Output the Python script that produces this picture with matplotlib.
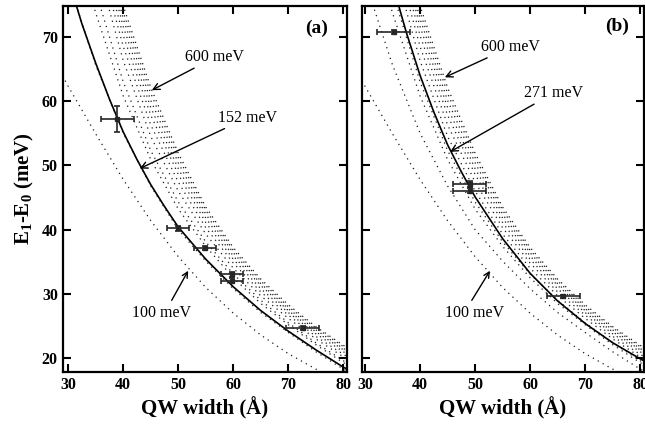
import matplotlib
matplotlib.use("Agg")
import matplotlib.pyplot as plt

plt.rcParams["font.family"] = ["Liberation Serif", "DejaVu Serif"]
plt.rcParams["mathtext.fontset"] = "custom"
plt.rcParams["mathtext.rm"] = "Liberation Serif"
plt.rcParams["mathtext.bf"] = "Liberation Serif:bold"

# x grid (QW width, Angstrom) for the dotted barrier-height curves
x_grid = [28, 30, 35, 40, 45, 50, 55, 60, 65, 70, 75, 80, 82]

# E1-E0 (meV) for each barrier height
e_100 = [65.5, 62.3, 54.9, 47.8, 41.4, 35.8, 31.0, 27.0, 23.6, 20.7, 18.3, 16.1, 15.3]
e_150 = [84.5, 78.7, 65.6, 55.0, 46.8, 40.0, 35.1, 30.8, 27.1, 24.0, 21.0, 18.3, 17.4]
e_200 = [95.9, 88.7, 73.7, 60.8, 50.9, 43.2, 37.4, 32.5, 28.5, 25.2, 22.1, 19.3, 18.4]
e_250 = [100.5, 92.8, 77.0, 63.0, 52.3, 44.3, 38.1, 33.1, 29.0, 25.5, 22.4, 19.6, 18.7]
e_300 = [107.2, 98.7, 81.9, 66.3, 54.5, 46.0, 39.3, 34.0, 29.7, 26.2, 23.0, 20.2, 19.2]
e_350 = [110.8, 101.9, 84.4, 68.5, 56.3, 47.4, 40.3, 34.8, 30.3, 26.7, 23.4, 20.6, 19.6]
e_400 = [113.6, 104.4, 86.4, 70.2, 57.8, 48.6, 41.1, 35.4, 30.8, 27.1, 23.8, 21.0, 20.0]
e_450 = [115.7, 106.2, 88.0, 71.6, 59.0, 49.5, 41.8, 35.9, 31.3, 27.4, 24.1, 21.3, 20.3]
e_500 = [117.5, 107.8, 89.2, 72.8, 60.1, 50.4, 42.4, 36.4, 31.6, 27.7, 24.4, 21.5, 20.5]
e_550 = [118.6, 108.7, 90.0, 73.8, 61.2, 51.2, 43.0, 36.8, 32.0, 28.0, 24.7, 21.8, 20.8]
e_600 = [120.0, 110.0, 91.0, 74.8, 62.1, 51.9, 43.5, 37.2, 32.3, 28.3, 24.9, 22.0, 21.0]
family = [e_100, e_150, e_200, e_250, e_300, e_350, e_400, e_450, e_500, e_550, e_600]

# best-fit solid curves
x_fit = [28, 30, 32.5, 35, 37.5, 40, 42.5, 45, 47.5, 50, 55, 60, 65, 70, 75, 80, 82]
fit_152 = [85.0, 79.0, 72.0, 65.9, 60.3, 55.2, 50.9, 47.0, 43.6, 40.4, 35.4, 31.1,
           27.4, 24.2, 21.3, 18.6, 17.7]
fit_271 = [104.4, 96.0, 86.6, 78.2, 70.7, 64.0, 58.3, 53.2, 49.0, 45.1, 38.6, 33.2,
           28.9, 25.4, 22.4, 19.9, 19.0]

# measured points
a_x = [38.9, 49.9, 54.85, 59.8, 59.8, 72.6]
a_y = [57.2, 40.2, 37.1, 33.05, 32.05, 24.65]
a_xerr = [3, 2, 2, 2, 2, 3]
a_yerr = [2.0, 0.4, 0.3, 0.4, 0.4, 0.3]

b_x = [35.2, 49.0, 49.0, 66.0]
b_y = [70.8, 47.1, 46.05, 29.6]
b_xerr = [3, 3, 3, 3]
b_yerr = [0.3, 0.4, 0.4, 0.3]

fig = plt.figure(figsize=(6.45, 4.26), dpi=100)
ax_a = fig.add_axes([0.0972, 0.1275, 0.4403, 0.8585])
ax_b = fig.add_axes([0.5608, 0.1275, 0.4369, 0.8585])

dot = (0, (1.0, 3.5))


def panel(ax, fit, px, py, pxe, pye, xlim):
    for curve in family:
        ax.plot(x_grid, curve, color="0.1", lw=0.9, linestyle=dot)
    ax.plot(x_fit, fit, color="black", lw=1.2)
    ax.errorbar(px, py, xerr=pxe, yerr=pye, fmt="s", ms=2.5, color="0.15",
                ecolor="0.15", elinewidth=1.2, capsize=2, capthick=1.2)
    ax.set_xlim(*xlim)
    ax.set_ylim(17.9, 74.8)
    ax.set_xticks([30, 40, 50, 60, 70, 80])
    ax.set_yticks([20, 30, 40, 50, 60, 70])
    ax.tick_params(direction="in", length=6, width=1.5, top=True, right=True,
                   labelsize=11.5)
    for lab in ax.get_xticklabels() + ax.get_yticklabels():
        lab.set_fontweight("bold")
    for s in ax.spines.values():
        s.set_linewidth(1.6)
    ax.set_xlabel("QW width (Å)", fontsize=15, fontweight="bold", labelpad=3)


panel(ax_a, fit_152, a_x, a_y, a_xerr, a_yerr, (29.0, 80.6))
panel(ax_b, fit_271, b_x, b_y, b_xerr, b_yerr, (29.4, 80.6))
ax_b.tick_params(labelleft=False)

ax_a.set_ylabel(r"E$_{\mathbf{1}}$-E$_{\mathbf{0}}$ (meV)", fontsize=15,
                fontweight="bold", labelpad=4)

arrow = dict(arrowstyle="->", lw=1.0, color="black", shrinkA=0, shrinkB=0)
txt = dict(fontsize=11.5, va="center")

# panel (a) labels
ax_a.annotate("600 meV", xy=(45.2, 61.7), xytext=(51.3, 66.8), arrowprops=arrow,
              ha="left", **txt)
ax_a.annotate("152 meV", xy=(43.0, 49.5), xytext=(57.2, 57.4), arrowprops=arrow,
              ha="left", **txt)
ax_a.annotate("", xy=(51.8, 33.6), xytext=(48.8, 29.0), arrowprops=arrow)
ax_a.text(46.9, 27.1, "100 meV", ha="center", **txt)
ax_a.text(75.2, 71.3, "(a)", fontsize=14, fontweight="bold", ha="center", va="center")

# panel (b) labels
ax_b.annotate("600 meV", xy=(44.5, 63.7), xytext=(51.1, 68.4), arrowprops=arrow,
              ha="left", **txt)
ax_b.annotate("271 meV", xy=(45.45, 52.1), xytext=(58.8, 61.2), arrowprops=arrow,
              ha="left", **txt)
ax_b.annotate("", xy=(52.7, 33.6), xytext=(49.4, 29.0), arrowprops=arrow)
ax_b.text(49.95, 27.1, "100 meV", ha="center", **txt)
ax_b.text(75.8, 71.6, "(b)", fontsize=14, fontweight="bold", ha="center", va="center")

fig.savefig("out.png", dpi=100)
